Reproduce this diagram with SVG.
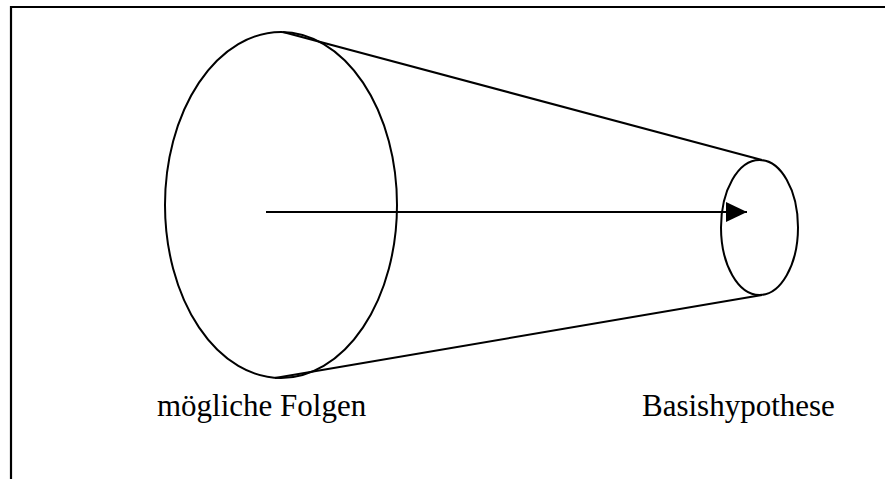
<svg xmlns="http://www.w3.org/2000/svg" width="885" height="479" viewBox="0 0 885 479">
<defs>
<style>
.ln{fill:none;stroke:#000;stroke-width:2}
.lbl{font-size:31px;fill:#000}
</style>
<marker id="ah" markerWidth="21" markerHeight="20" refX="21" refY="10" orient="auto" markerUnits="userSpaceOnUse">
<path d="M0,0 L21,10 L0,20 Z" fill="#000"/>
</marker>
</defs>
<rect width="885" height="479" fill="#fff"/>
<path d="M11,479 V7 H885" fill="none" stroke="#000" stroke-width="2.2"/>
<g id="connectors">
<line class="ln" x1="283" y1="32" x2="762" y2="160"/>
<line class="ln" x1="275" y1="378" x2="762" y2="295"/>
<line class="ln" x1="266" y1="212" x2="747" y2="212" marker-end="url(#ah)"/>
</g>
<g id="node-folgen">
<ellipse class="ln" cx="281" cy="205" rx="116" ry="173"/>
<text class="lbl" font-family="'Liberation Serif', 'Times New Roman', 'DejaVu Serif', serif" x="157" y="416">mögliche Folgen</text>
</g>
<g id="node-basis">
<ellipse class="ln" cx="759.5" cy="227.5" rx="38.5" ry="67.5"/>
<text class="lbl" font-family="'Liberation Serif', 'Times New Roman', 'DejaVu Serif', serif" x="642" y="416">Basishypothese</text>
</g>
</svg>
